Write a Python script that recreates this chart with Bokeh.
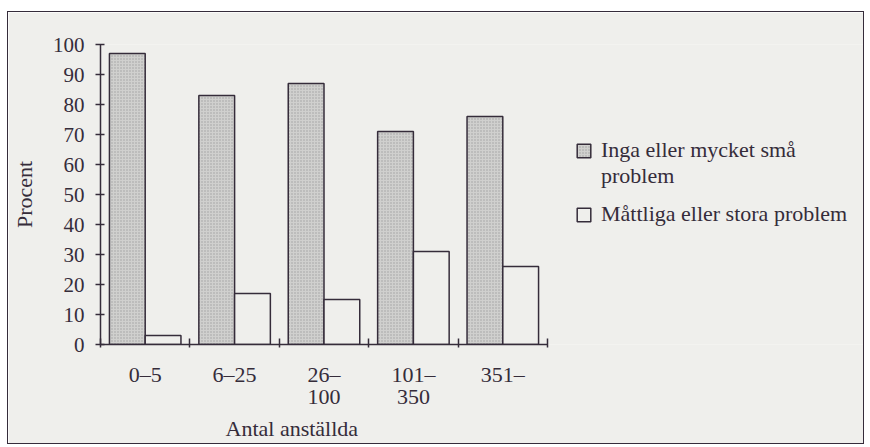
from bokeh.plotting import figure
from bokeh.models import (Range1d, FixedTicker, Legend, LegendItem, Title, ColumnDataSource)
from bokeh.transform import dodge
from bokeh.embed import file_html
from bokeh.resources import INLINE

# ---- data ----
categories = ["0–5", "6–25", "26–100", "101–350", "351–"]
tick_labels = ["0–5", "6–25", "26–\n100", "101–\n350", "351–"]
inga = [97, 83, 87, 71, 76]
mattliga = [3, 17, 15, 31, 26]
y_ticks = [0, 10, 20, 30, 40, 50, 60, 70, 80, 90, 100]
series_lines_1 = ["Inga eller mycket små", "problem"]
series_name_2 = "Måttliga eller stora problem"
y_title = "Procent"
x_title = "Antal anställda"

BG = "#efefec"
INK = "#352c3a"
FONT = "Liberation Serif"

n = len(categories)
centers = [i + 0.5 for i in range(n)]          # category slot centres
edges = list(range(n + 1))                      # category slot boundaries

# layout: the bar area is 447 px wide; the frame continues to the right to hold the legend
BAR_AREA_PX = 447
FRAME_W = 763
x_end = n * FRAME_W / BAR_AREA_PX

source = ColumnDataSource(dict(pos=centers, cat=categories, inga=inga, mattliga=mattliga))

p = figure(x_range=Range1d(0, x_end), y_range=Range1d(0, 100),
           frame_width=FRAME_W, frame_height=300,
           output_backend="svg", toolbar_location=None,
           min_border_left=92, min_border_right=0, min_border_top=32, min_border_bottom=99)
p.styles = {"border": f"1.5px solid {INK}", "margin": "11px 0 0 7px"}
p.background_fill_color = BG
p.border_fill_color = BG
p.outline_line_color = None
p.xgrid.visible = False
p.ygrid.visible = False

r1 = p.vbar(x=dodge("pos", -0.2), top="inga", width=0.4, source=source,
            fill_color="#d0d0ce", line_color=INK, line_width=1.5,
            hatch_pattern="dot", hatch_color="#8c8c8c", hatch_scale=3, hatch_weight=1, hatch_alpha=0.7)
r2 = p.vbar(x=dodge("pos", 0.2), top="mattliga", width=0.4, source=source,
            fill_color=BG, line_color=INK, line_width=1.5)
# empty, invisible renderer used only so the wrapped second legend line has no swatch
blank = p.vbar(x=[], top=[], width=0.4, fill_alpha=0, line_alpha=0)

ya = p.yaxis[0]
ya.ticker = FixedTicker(ticks=y_ticks)
ya.axis_label = y_title
ya.axis_label_text_font = FONT
ya.axis_label_text_font_size = "22px"
ya.axis_label_text_font_style = "normal"
ya.axis_label_text_color = INK
ya.axis_label_standoff = 13
ya.major_label_text_font = FONT
ya.major_label_text_font_size = "21px"
ya.major_label_text_color = INK
ya.major_label_standoff = 11
ya.major_tick_in = 4
ya.major_tick_out = 5
ya.minor_tick_line_color = None
ya.axis_line_width = 1.5
ya.axis_line_color = INK
ya.major_tick_line_width = 1.5
ya.major_tick_line_color = INK

xa = p.xaxis[0]
xa.bounds = (0, n)
xa.ticker = FixedTicker(ticks=centers, minor_ticks=edges)
xa.major_label_overrides = {c: lab for c, lab in zip(centers, tick_labels)}
xa.major_tick_line_color = None
xa.major_tick_in = 0
xa.major_tick_out = 3
xa.minor_tick_in = 6
xa.minor_tick_out = 3
xa.minor_tick_line_width = 1.5
xa.minor_tick_line_color = INK
xa.axis_line_width = 1.5
xa.axis_line_color = INK
xa.major_label_text_font = FONT
xa.major_label_text_font_size = "22px"
xa.major_label_text_color = INK
xa.major_label_text_line_height = 0.9
xa.major_label_standoff = 14

p.add_layout(Title(text=x_title, align="left", offset=125, text_font=FONT,
                   text_font_size="22px", text_font_style="normal", text_color=INK,
                   standoff=3), "below")

legend_style = dict(padding=0, margin=0, glyph_width=17, glyph_height=17, label_standoff=9,
                    label_text_font=FONT, label_text_font_size="22px", label_text_color=INK,
                    border_line_color=None, background_fill_alpha=0)
legend1 = Legend(items=[LegendItem(label=series_lines_1[0], renderers=[r1]),
                        LegendItem(label=series_lines_1[1], renderers=[blank])],
                 location=(475, 155), spacing=-11, **legend_style)
legend2 = Legend(items=[LegendItem(label=series_name_2, renderers=[r2])],
                 location=(475, 117), spacing=0, **legend_style)
p.add_layout(legend1)
p.add_layout(legend2)

open("out.html", "w").write(file_html(p, INLINE))
